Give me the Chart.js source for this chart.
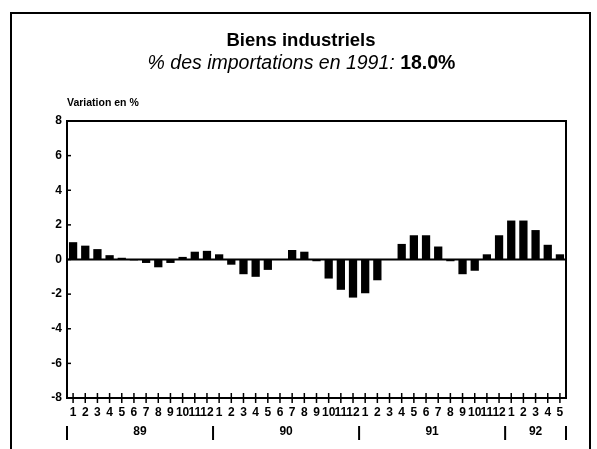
<!DOCTYPE html>
<html>
<head>
<meta charset="utf-8">
<script src="https://cdn.jsdelivr.net/npm/chart.js@4/dist/chart.umd.min.js"></script>
<style>
  html, body { margin: 0; padding: 0; background: #fff; }
  #wrap { position: relative; width: 597px; height: 449px; overflow: hidden; font-family: "Liberation Sans", Arial, sans-serif; color: #000; }
  #c { position: absolute; left: 0; top: 0; }
  .t { position: absolute; white-space: nowrap; line-height: 1; }
  #title { left: 0; width: 602px; text-align: center; top: 31px; font-size: 18.5px; font-weight: bold; }
  #sub { left: 0; width: 603px; text-align: center; top: 53px; font-size: 19.5px; font-style: italic; }
  #sub b { font-style: normal; }
  #ylab { left: 67px; top: 97px; font-size: 10.5px; font-weight: bold; }
</style>
</head>
<body>
<div id="wrap">
  <canvas id="c" width="597" height="449"></canvas>
  <div class="t" id="title">Biens industriels</div>
  <div class="t" id="sub">% des importations en 1991: <b>18.0%</b></div>
  <div class="t" id="ylab">Variation en %</div>
</div>
<script>
// Month tick labels (one per bar)
const months = ["1","2","3","4","5","6","7","8","9","10","11","12",
                "1","2","3","4","5","6","7","8","9","10","11","12",
                "1","2","3","4","5","6","7","8","9","10","11","12",
                "1","2","3","4","5"];
// Year of each bar
const yearOfBar = ["89","89","89","89","89","89","89","89","89","89","89","89",
                   "90","90","90","90","90","90","90","90","90","90","90","90",
                   "91","91","91","91","91","91","91","91","91","91","91","91",
                   "92","92","92","92","92"];
// Year labels
const years = ["89","90","91","92"];
// Variation en %
const variation = [1.0, 0.8, 0.6, 0.25, 0.1, -0.05, -0.2, -0.45, -0.2, 0.15, 0.45, 0.5,
                   0.3, -0.3, -0.85, -1.0, -0.6, 0.0, 0.55, 0.45, -0.1, -1.1, -1.75, -2.2,
                   -1.95, -1.2, 0.0, 0.9, 1.4, 1.4, 0.75, -0.1, -0.85, -0.65, 0.3, 1.4,
                   2.25, 2.25, 1.7, 0.85, 0.3];
// Y ticks
const yMin = -8, yMax = 8, yStep = 2;

const FONT = '"Liberation Sans", Arial, sans-serif';

const decor = {
  id: 'decor',
  beforeDraw(chart) {
    const ctx = chart.ctx;
    ctx.save();
    ctx.fillStyle = '#fff';
    ctx.fillRect(0, 0, chart.width, chart.height);
    ctx.strokeStyle = '#000';
    ctx.lineWidth = 2;
    ctx.beginPath();
    ctx.moveTo(11, 449);
    ctx.lineTo(11, 13);
    ctx.lineTo(590, 13);
    ctx.lineTo(590, 449);
    ctx.stroke();
    ctx.restore();
  },
  afterDraw(chart) {
    const ctx = chart.ctx;
    const a = chart.chartArea;
    const xs = chart.scales.x, ys = chart.scales.y;
    ctx.save();
    ctx.strokeStyle = '#000';
    ctx.fillStyle = '#000';
    // plot box
    ctx.lineWidth = 2;
    ctx.strokeRect(a.left, a.top, a.right - a.left, a.bottom - a.top);
    // zero line
    const y0 = ys.getPixelForValue(0);
    ctx.beginPath();
    ctx.moveTo(a.left, y0);
    ctx.lineTo(a.right, y0);
    ctx.stroke();
    // y inner ticks
    ctx.lineWidth = 1.5;
    ys.ticks.forEach((t, i) => {
      const y = ys.getPixelForTick(i);
      ctx.beginPath();
      ctx.moveTo(a.left, y);
      ctx.lineTo(a.left + 4, y);
      ctx.stroke();
    });
    // x cross ticks
    for (let i = 0; i < xs.ticks.length; i++) {
      const x = xs.getPixelForTick(i);
      ctx.beginPath();
      ctx.moveTo(x, a.bottom - 5);
      ctx.lineTo(x, a.bottom + 5);
      ctx.stroke();
    }
    // year separators and labels
    const half = (xs.getPixelForValue(1) - xs.getPixelForValue(0)) / 2;
    ctx.lineWidth = 2;
    ctx.font = 'bold 12px ' + FONT;
    ctx.textAlign = 'center';
    ctx.textBaseline = 'middle';
    years.forEach((yr, k) => {
      const first = yearOfBar.indexOf(yr);
      const last = yearOfBar.lastIndexOf(yr);
      const x1 = xs.getPixelForValue(first) - half;
      const x2 = xs.getPixelForValue(last) + half;
      ctx.beginPath();
      ctx.moveTo(x1, a.bottom + 28);
      ctx.lineTo(x1, a.bottom + 42);
      if (k === years.length - 1) {
        ctx.moveTo(x2, a.bottom + 28);
        ctx.lineTo(x2, a.bottom + 42);
      }
      ctx.stroke();
      ctx.fillText(yr, (x1 + x2) / 2, a.bottom + 34);
    });
    ctx.restore();
  }
};

new Chart(document.getElementById('c'), {
  type: 'bar',
  data: {
    labels: months,
    datasets: [{
      data: variation,
      backgroundColor: '#000',
      borderWidth: 0,
      barPercentage: 0.68,
      categoryPercentage: 1.0
    }]
  },
  options: {
    responsive: false,
    animation: false,
    devicePixelRatio: 1,
    layout: { padding: { left: 0, right: 31, top: 121, bottom: 0 } },
    plugins: { legend: { display: false }, tooltip: { enabled: false }, title: { display: false } },
    scales: {
      x: {
        type: 'category',
        offset: true,
        grid: { display: false, offset: false, drawTicks: false },
        border: { display: false },
        ticks: {
          autoSkip: false, maxRotation: 0, minRotation: 0, padding: 7,
          color: '#000', font: { family: FONT, size: 12, weight: 'bold' }
        },
        afterFit(s) { s.height = 51; }
      },
      y: {
        min: yMin, max: yMax,
        grid: { display: false, drawTicks: false },
        border: { display: false },
        ticks: {
          stepSize: yStep, padding: 5, color: '#000',
          font: { family: FONT, size: 12, weight: 'bold' }
        },
        afterFit(s) { s.width = 67; }
      }
    }
  },
  plugins: [decor]
});
</script>
</body>
</html>
